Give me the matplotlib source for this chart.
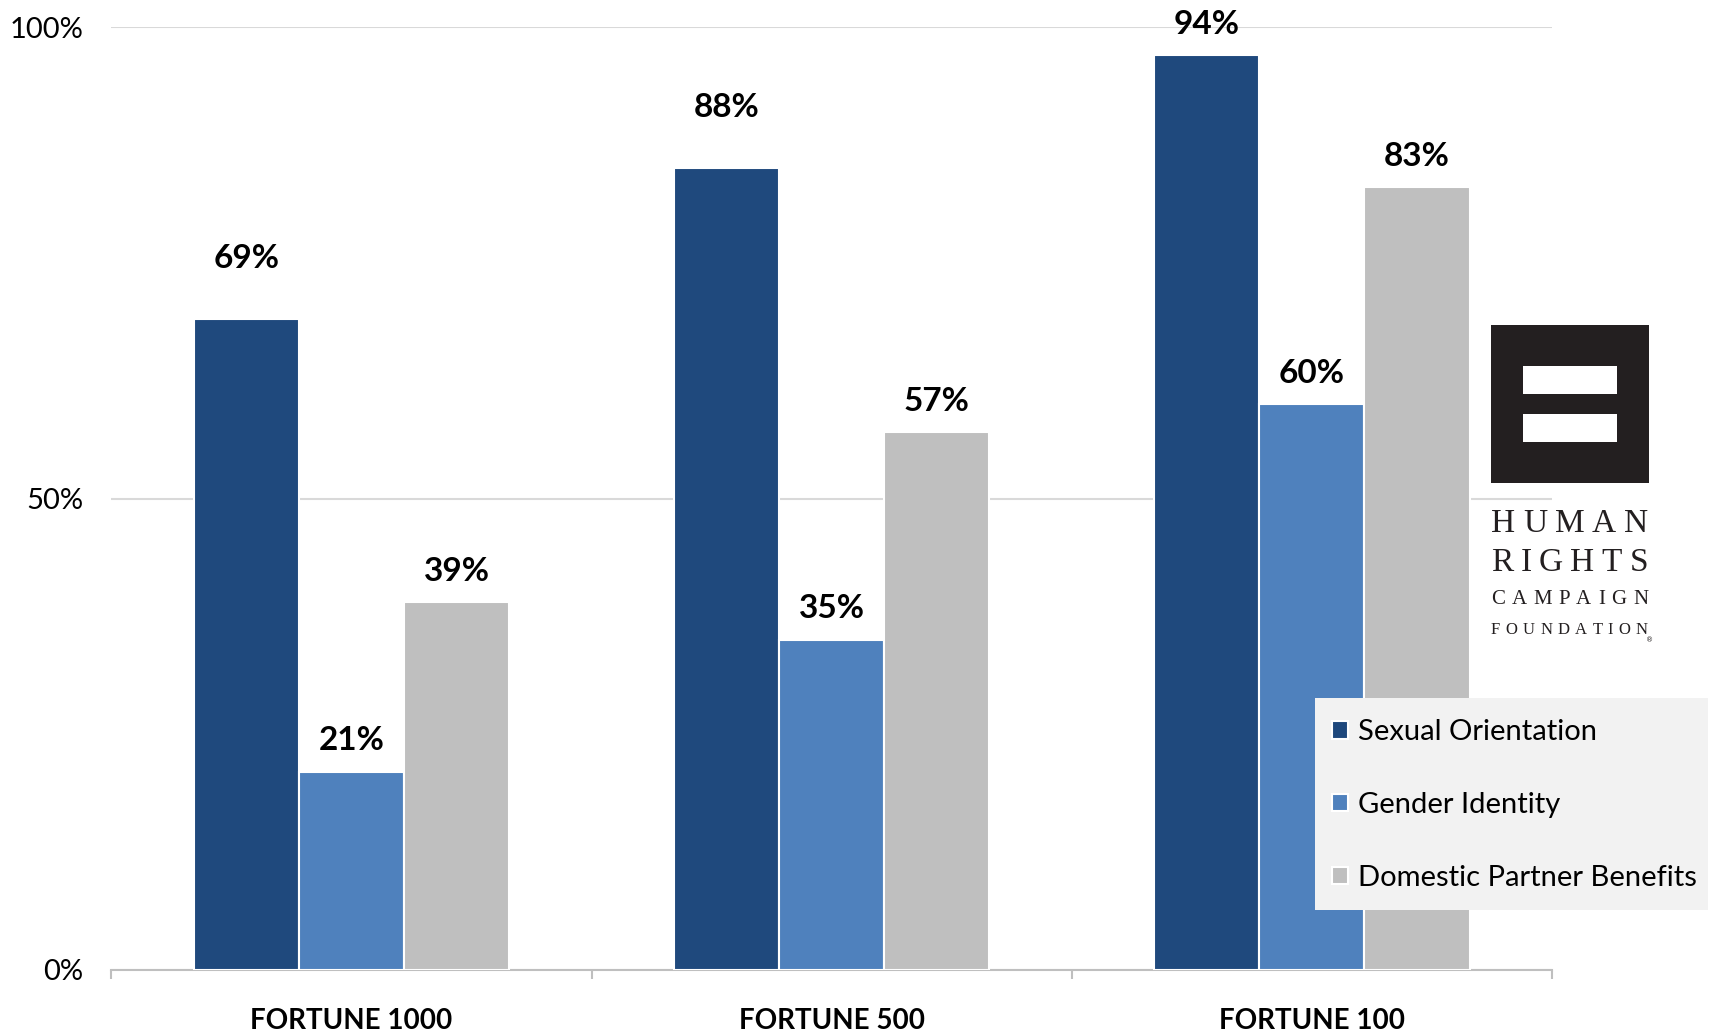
import matplotlib
matplotlib.use('Agg')
import matplotlib.pyplot as plt
from matplotlib.patches import Rectangle
import numpy as np

# ---------------- data ----------------
categories = ['FORTUNE 1000', 'FORTUNE 500', 'FORTUNE 100']
series_names = ['Sexual Orientation', 'Gender Identity', 'Domestic Partner Benefits']
# bar heights as drawn in the picture (percent)
sexual_orientation = [69, 85, 97]
gender_identity = [21, 35, 60]
domestic_partner = [39, 57, 83]
# printed data labels
label_sexual = ['69%', '88%', '94%']
label_gender = ['21%', '35%', '60%']
label_domestic = ['39%', '57%', '83%']
y_ticks = [0, 50, 100]
y_ticklabels = ['0%', '50%', '100%']
logo_lines = ['HUMAN', 'RIGHTS', 'CAMPAIGN', 'FOUNDATION']

# ---------------- style ----------------
plt.rcParams['font.family'] = ['Lato', 'DejaVu Sans']
colors = ['#1F497D', '#4F81BD', '#BFBFBF']

W, H = 1715, 1034
fig = plt.figure(figsize=(W / 100, H / 100), dpi=100)
ax = fig.add_axes([111.5 / W, 1 - 970 / H, 1440.5 / W, 943 / H])

x = np.arange(len(categories))
width = 0.219
series = [sexual_orientation, gender_identity, domestic_partner]
labels = [label_sexual, label_gender, label_domestic]

for i, (vals, col, name) in enumerate(zip(series, colors, series_names)):
    ax.bar(x + (i - 1) * width, vals, width, color=col, edgecolor='white',
           linewidth=1.5, zorder=3, label=name)

# data labels (pixel offsets above bar tops)
extra = {(0, 0): 61, (0, 1): 61}
for i, (vals, labs) in enumerate(zip(series, labels)):
    for j, (v, t) in enumerate(zip(vals, labs)):
        off = extra.get((i, j), 31)
        ax.annotate(t, (x[j] + (i - 1) * width, v), xytext=(0, off),
                    textcoords='offset pixels', ha='center', va='center',
                    fontsize=24, fontweight='bold', color='black',
                    annotation_clip=False, zorder=4)

ax.set_xlim(-0.5, 2.5)
ax.set_ylim(0, 100)
ax.set_yticks(y_ticks)
ax.set_yticklabels(y_ticklabels)
ax.yaxis.grid(True, color='#d9d9d9', linewidth=1.5)
ax.set_axisbelow(True)
for s in ['left', 'top', 'right']:
    ax.spines[s].set_visible(False)
ax.spines['bottom'].set_color('#bfbfbf')
ax.spines['bottom'].set_linewidth(1.5)
ax.tick_params(axis='y', length=0, pad=20.5, labelsize=21)

ax.set_xticks(x)
ax.set_xticklabels(categories, fontweight='bold')
ax.set_xticks([-0.5, 0.5, 1.5, 2.5], minor=True)
ax.tick_params(axis='x', which='major', length=0, pad=27.5, labelsize=20)
ax.tick_params(axis='x', which='minor', length=6.5, width=1.5,
               color='#bfbfbf', direction='out')

# legend: light grey box + frameless legend
fig.add_artist(Rectangle((1315 / W, 1 - 910 / H), 393 / W, 212 / H,
                         transform=fig.transFigure, color='#f2f2f2', lw=0,
                         zorder=5))
leg = ax.legend(loc='center left', bbox_to_anchor=(1332 / W, 1 - 805 / H),
                bbox_transform=fig.transFigure, frameon=False,
                fontsize=21, handlelength=0.55, handleheight=0.55,
                handletextpad=0.34, labelspacing=1.6, borderpad=0,
                borderaxespad=0)
leg.remove()
fig.add_artist(leg)
leg.set_zorder(6)

# ---------------- logo ----------------
fig.add_artist(Rectangle((1491 / W, 1 - 483 / H), 158 / W, 158 / H,
                         transform=fig.transFigure, color='#231f20', lw=0))
for top, bot in [(366, 394), (414, 442)]:
    fig.add_artist(Rectangle((1523 / W, 1 - bot / H), 94 / W, (bot - top) / H,
                             transform=fig.transFigure, color='white', lw=0))

logo_y = [524, 563, 600, 630]
logo_size = [24, 24, 15, 12]
left, right = 1491, 1648
renderer = fig.canvas.get_renderer()
for word, yy, fs in zip(logo_lines, logo_y, logo_size):
    texts = [fig.text(0, 1 - yy / H, ch, ha='left', va='center', fontsize=fs,
                      family='Liberation Serif', color='#231f20')
             for ch in word]
    widths = [t.get_window_extent(renderer).width for t in texts]
    gap = (right - left - sum(widths)) / (len(word) - 1)
    pos = left
    for t, w in zip(texts, widths):
        t.set_x(pos / W)
        pos += w + gap
fig.text(1650 / W, 1 - 640 / H, '®', fontsize=5, family='DejaVu Sans',
         ha='center', va='center', color='#231f20')

fig.savefig('out.png', dpi=100)
